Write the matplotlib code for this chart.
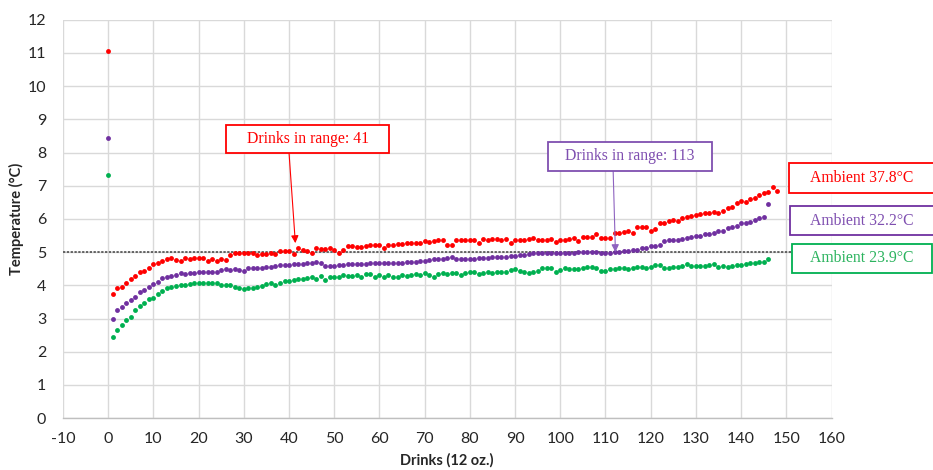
import numpy as np
import matplotlib
matplotlib.use("Agg")
import matplotlib.pyplot as plt
from matplotlib.patches import Rectangle

plt.rcParams["axes.unicode_minus"] = False

# ---- data ----
red_vals = [11.05,
    3.73, 3.91, 3.96, 4.06, 4.18, 4.28, 4.39, 4.44, 4.51, 4.65, 4.68, 4.74, 4.78, 4.81, 4.76, 4.74, 4.83, 4.78, 4.83, 4.81, 4.83, 4.74, 4.78, 4.74, 4.78,
    4.76, 4.91, 4.96, 4.96, 4.96, 4.96, 4.96, 4.91, 4.94, 4.93, 4.96, 4.93, 5.02, 5.02, 5.04, 4.93, 5.12, 5.06, 5.02, 4.98, 5.12, 5.08, 5.08, 5.12, 5.06, 4.96, 5.06,
    5.17, 5.19, 5.15, 5.15, 5.19, 5.22, 5.22, 5.22, 5.12, 5.22, 5.22, 5.25, 5.25, 5.27, 5.27, 5.27, 5.27, 5.32, 5.29, 5.32, 5.35, 5.37, 5.22, 5.22, 5.37, 5.37,
    5.37, 5.37, 5.37, 5.27, 5.39, 5.37, 5.39, 5.39, 5.35, 5.39, 5.27, 5.35, 5.35, 5.37, 5.39, 5.42, 5.35, 5.35, 5.37, 5.39, 5.29, 5.37, 5.37, 5.39, 5.42,
    5.32, 5.45, 5.45, 5.45, 5.55, 5.42, 5.42, 5.42, 5.59, 5.57, 5.62, 5.65, 5.59, 5.75, 5.75, 5.75, 5.65, 5.69, 5.87, 5.89, 5.95, 5.97, 5.95, 6.02, 6.05, 6.09, 6.12, 6.14,
    6.17, 6.19, 6.22, 6.17, 6.25, 6.32, 6.35, 6.47, 6.55, 6.52, 6.59, 6.62, 6.72, 6.77, 6.82, 6.95, 6.85]

purple_vals = [8.45,
    2.97, 3.26, 3.36, 3.46, 3.56, 3.66, 3.81, 3.86, 3.96, 4.04, 4.11, 4.21, 4.24, 4.28, 4.31, 4.36, 4.34, 4.36, 4.38, 4.39, 4.41, 4.41, 4.41, 4.41, 4.46,
    4.48, 4.46, 4.48, 4.46, 4.44, 4.51, 4.51, 4.52, 4.53, 4.56, 4.56, 4.58, 4.61, 4.61, 4.61, 4.64, 4.64, 4.64, 4.66, 4.68, 4.71, 4.66, 4.58, 4.58, 4.58, 4.61, 4.62,
    4.64, 4.64, 4.64, 4.64, 4.64, 4.68, 4.68, 4.68, 4.68, 4.66, 4.68, 4.68, 4.68, 4.71, 4.71, 4.71, 4.74, 4.74, 4.76, 4.78, 4.78, 4.78, 4.81, 4.84, 4.78, 4.78,
    4.78, 4.78, 4.78, 4.81, 4.81, 4.81, 4.84, 4.84, 4.86, 4.86, 4.88, 4.88, 4.91, 4.91, 4.94, 4.96, 4.96, 4.96, 4.96, 4.98, 4.98, 4.98, 4.98, 4.98, 4.98, 5.01,
    5.01, 5.01, 5.01, 5.01, 4.96, 4.96, 4.96, 5.01, 5.01, 5.04, 5.04, 5.07, 5.07, 5.12, 5.12, 5.17, 5.19, 5.22, 5.32, 5.35, 5.35, 5.35, 5.39, 5.42, 5.45, 5.47, 5.49,
    5.55, 5.55, 5.59, 5.65, 5.65, 5.72, 5.77, 5.79, 5.87, 5.89, 5.92, 5.97, 6.02, 6.07, 6.44]

green_vals = [7.33,
    2.45, 2.65, 2.80, 2.95, 3.05, 3.26, 3.38, 3.46, 3.58, 3.61, 3.74, 3.84, 3.91, 3.96, 3.98, 4.01, 4.01, 4.03, 4.06, 4.06, 4.08, 4.08, 4.06, 4.08, 4.01,
    4.01, 4.01, 3.96, 3.91, 3.88, 3.91, 3.93, 3.96, 3.98, 4.04, 4.08, 4.01, 4.06, 4.13, 4.13, 4.16, 4.18, 4.18, 4.21, 4.26, 4.18, 4.28, 4.16, 4.26, 4.24, 4.26, 4.31,
    4.28, 4.28, 4.31, 4.24, 4.34, 4.34, 4.24, 4.31, 4.24, 4.31, 4.24, 4.26, 4.31, 4.28, 4.31, 4.34, 4.31, 4.36, 4.31, 4.26, 4.34, 4.36, 4.34, 4.36, 4.36, 4.31,
    4.36, 4.41, 4.41, 4.34, 4.38, 4.41, 4.38, 4.41, 4.41, 4.41, 4.46, 4.48, 4.44, 4.41, 4.38, 4.41, 4.44, 4.51, 4.51, 4.51, 4.41, 4.46, 4.51, 4.48, 4.48,
    4.48, 4.51, 4.54, 4.54, 4.51, 4.44, 4.44, 4.48, 4.48, 4.51, 4.51, 4.48, 4.51, 4.54, 4.56, 4.51, 4.54, 4.61, 4.61, 4.51, 4.51, 4.54, 4.54, 4.58, 4.64, 4.58, 4.58, 4.58,
    4.58, 4.61, 4.64, 4.54, 4.58, 4.54, 4.58, 4.61, 4.61, 4.64, 4.66, 4.68, 4.71, 4.71, 4.78]

series_labels = ["Ambient 37.8°C", "Ambient 32.2°C", "Ambient 23.9°C"]
x_ticks = list(range(-10, 161, 10))
y_ticks = list(range(0, 13))
threshold = 5
range_counts = [41, 113]

RED = "#FF0000"
PURPLE = "#7030A0"
GREEN = "#00B050"

fig = plt.figure(figsize=(9.33, 4.70), dpi=100)
ax = fig.add_axes([63 / 933, 51.9 / 470, 768.5 / 933, 398.4 / 470])

for vals, col in [(red_vals, RED), (purple_vals, PURPLE), (green_vals, GREEN)]:
    ax.plot(np.arange(len(vals)), vals, linestyle="none", marker="o",
            markersize=3.5, color=col, markeredgewidth=0, zorder=3)

ax.axhline(threshold, color="#404040", linestyle=(0, (1.5, 1.0)), linewidth=1.1, zorder=2)

ax.set_xlim(-10, 160)
ax.set_ylim(0, 12)
ax.set_xticks(x_ticks)
ax.set_yticks(y_ticks)
ax.grid(True, color="#D9D9D9", linewidth=1.0, zorder=0)
ax.set_axisbelow(True)
for s in ["top", "right", "left"]:
    ax.spines[s].set_visible(False)
ax.spines["bottom"].set_color("#BFBFBF")
ax.spines["bottom"].set_linewidth(1.0)
ax.tick_params(axis="both", length=0, labelsize=11.5)
ax.tick_params(axis="x", pad=10)
ax.tick_params(axis="y", pad=12)
for lab in ax.get_xticklabels() + ax.get_yticklabels():
    lab.set_fontfamily("Lato")
    lab.set_color("#262626")

ax.set_xlabel("Drinks (12 oz.)", fontfamily="Lato", fontweight="bold", fontsize=10.5, color="#262626", labelpad=5)
ax.set_ylabel("Temperature (°C)", fontfamily="Lato", fontweight="bold", fontsize=10.5, color="#262626", labelpad=3)

# annotation boxes inside axes
serif = "Liberation Serif"
ax.add_patch(Rectangle((26.1, 7.99), 36.1, 0.84, facecolor="white", edgecolor=RED,
                       linewidth=1.3, zorder=5, clip_on=False))
ax.text(44.1, 8.41, f"Drinks in range: {range_counts[0]}", color=RED, fontfamily=serif,
        fontsize=11.3, ha="center", va="center", zorder=6)
ax.annotate("", xy=(41.4, 5.27), xytext=(40.0, 7.99),
            arrowprops=dict(arrowstyle="-|>", color=RED, lw=0.8, mutation_scale=11,
                            shrinkA=0, shrinkB=0), zorder=4)

ax.add_patch(Rectangle((97.3, 7.45), 36.3, 0.86, facecolor="white", edgecolor="#7F4FB0",
                       linewidth=1.3, zorder=5, clip_on=False))
ax.text(115.4, 7.88, f"Drinks in range: {range_counts[1]}", color="#7F4FB0", fontfamily=serif,
        fontsize=11.3, ha="center", va="center", zorder=6)
ax.annotate("", xy=(112.2, 5.0), xytext=(111.7, 7.45),
            arrowprops=dict(arrowstyle="-|>", color="#8E63C0", lw=0.8, mutation_scale=11,
                            shrinkA=0, shrinkB=0), zorder=4)

# series label boxes on the right (figure coords)
W, H = 933.0, 470.0
boxes = [
    (series_labels[0], RED, RED, 789, 942, 163, 193),
    (series_labels[1], PURPLE, "#7F4FB0", 790, 942, 206, 235),
    (series_labels[2], GREEN, "#2BB35E", 791.5, 931.5, 244, 273),
]
for label, ec, tc, x0, x1, ytop, ybot in boxes:
    fig.patches.append(Rectangle((x0 / W, 1 - ybot / H), (x1 - x0) / W, (ybot - ytop) / H,
                                 transform=fig.transFigure, facecolor="white", edgecolor=ec,
                                 linewidth=1.3, zorder=5))
    fig.text(862 / W, 1 - ((ytop + ybot) / 2) / H, label, color=tc, fontfamily=serif,
             fontsize=11.3, ha="center", va="center", zorder=6)

fig.savefig("out.png", dpi=100)
